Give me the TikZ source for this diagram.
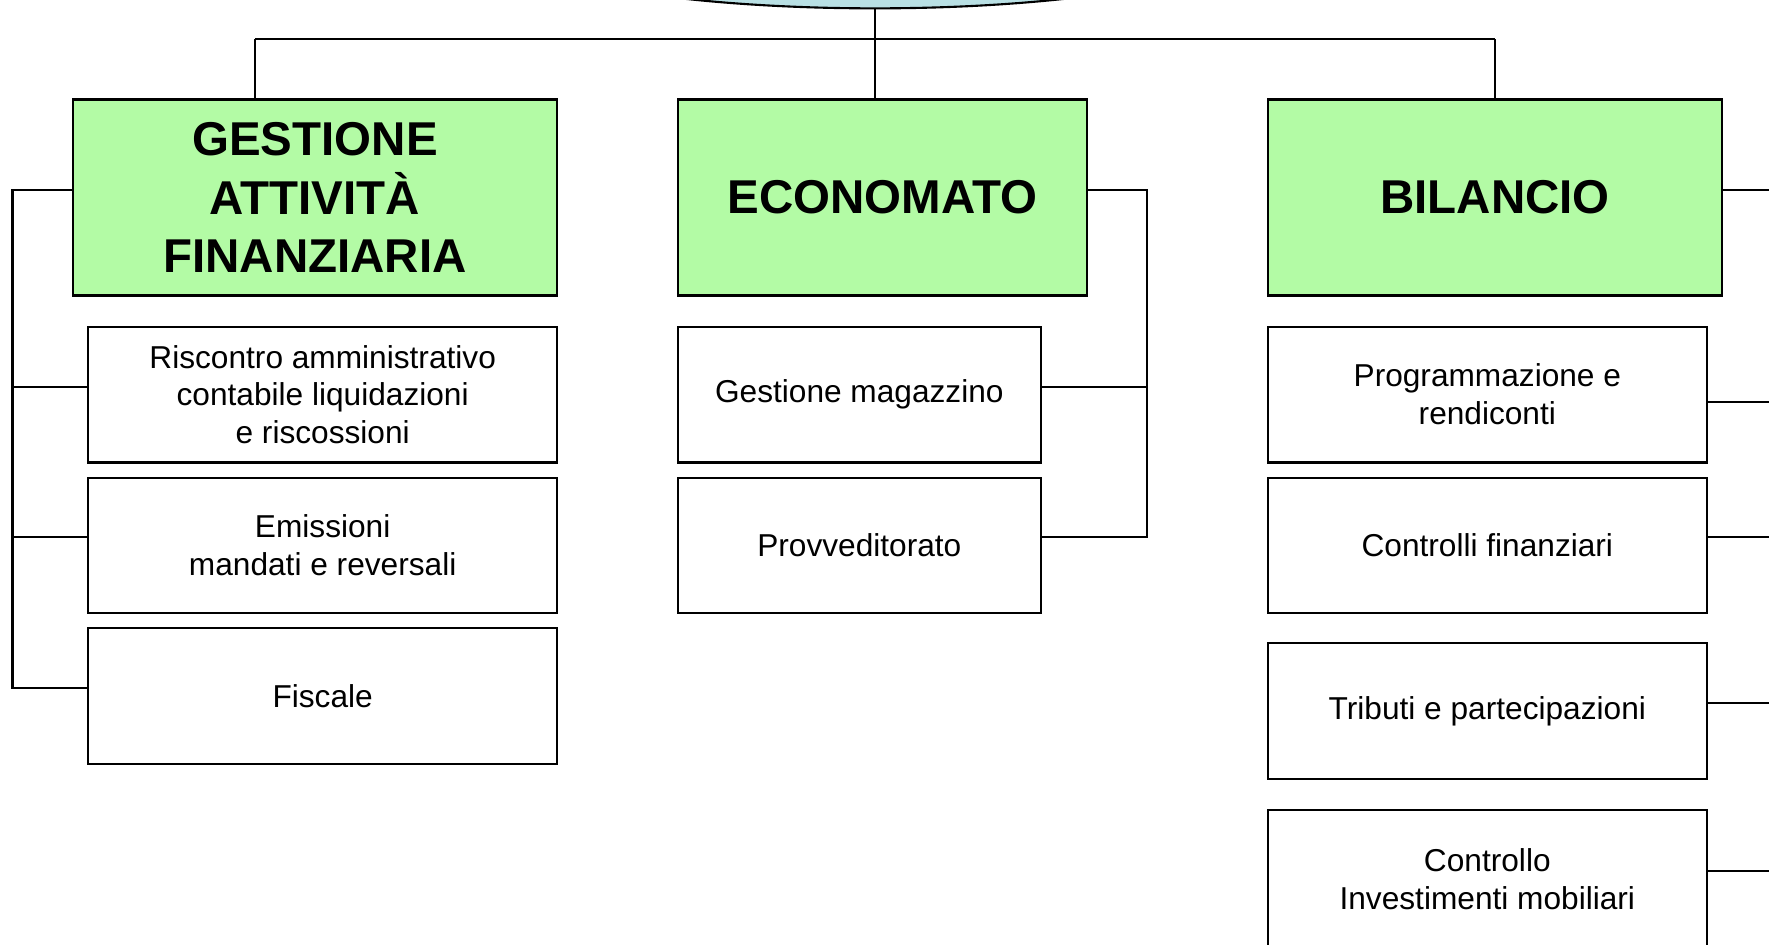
\documentclass[tikz,border=0pt]{standalone}
\usepackage{fontspec}
\setmainfont{Liberation Sans}
\usetikzlibrary{positioning, shapes.geometric}
\definecolor{headgreen}{RGB}{179,251,165}
\definecolor{rootblue}{RGB}{185,224,228}
\tikzset{
  head/.style = {rectangle, draw, line width=0.7pt, fill=headgreen, align=center, minimum height=1.96cm, font=\fontsize{13.5}{16.7}\selectfont\bfseries},
  unit/.style = {rectangle, draw, line width=0.6pt, fill=white, align=center, minimum height=1.355cm, font=\fontsize{9}{10.8}\selectfont},
  link/.style = {draw, line width=0.6pt},
}
\begin{document}
\begin{tikzpicture}[x=0.01cm, y=-0.01cm, node distance=0.13cm]
  \useasboundingbox (0,0) rectangle (1769,944);
  \clip (0,0) rectangle (1769,944);

  \node (root) [ellipse, draw, line width=0.6pt, fill=rootblue, minimum width=8cm, minimum height=1.6cm] at (875,-71.7) {};

  \node (gaf) [head, minimum width=4.84cm] at (315,197.5) {GESTIONE\\ATTIVITÀ\\FINANZIARIA};
  \node (eco) [head, minimum width=4.09cm] at (882.5,197.5) {ECONOMATO};
  \node (bil) [head, minimum width=4.54cm] at (1495,197.5) {BILANCIO};

  \node (gaf1) [unit, minimum width=4.69cm, below=0.29cm of gaf.south east, anchor=north east] {Riscontro amministrativo\\contabile liquidazioni\\e riscossioni};
  \node (gaf2) [unit, minimum width=4.69cm, below=of gaf1] {Emissioni\\mandati e reversali};
  \node (gaf3) [unit, minimum width=4.69cm, below=of gaf2] {Fiscale};

  \node (eco1) [unit, minimum width=3.63cm, below=0.29cm of eco.south west, anchor=north west] {Gestione magazzino};
  \node (eco2) [unit, minimum width=3.63cm, below=of eco1] {Provveditorato};

  \node (bil1) [unit, minimum width=4.39cm, below=0.29cm of bil.south west, anchor=north west] {Programmazione e\\rendiconti};
  \node (bil2) [unit, minimum width=4.39cm, below=of bil1] {Controlli finanziari};
  \node (bil3) [unit, minimum width=4.39cm, below=0.28cm of bil2] {Tributi e partecipazioni};
  \node (bil4) [unit, minimum width=4.39cm, minimum height=1.38cm, below=0.29cm of bil3] {Controllo\\Investimenti mobiliari};

  \coordinate (busL) at (255,39);
  \coordinate (busR) at (1495,39);
  \coordinate (gsp) at (12.5,0);
  \coordinate (esp) at (1147,0);
  \coordinate (bsp) at (1800,0);

  \draw [link] (busL) -- (busR);
  \draw [link] (busL) -- (busL |- gaf.north);
  \draw [link] (root.south) -- (root.south |- eco.north);
  \draw [link] (busR) -- (bil.north);

  \draw [link] ([yshift=0.075cm]gaf.west) -- ([yshift=0.075cm]gaf.west -| gsp) |- ([yshift=0.08cm]gaf3.west);
  \draw [link] ([yshift=0.08cm]gaf1.west) -- ([yshift=0.08cm]gaf1.west -| gsp);
  \draw [link] ([yshift=0.08cm]gaf2.west) -- ([yshift=0.08cm]gaf2.west -| gsp);

  \draw [link] ([yshift=0.075cm]eco.east) -- ([yshift=0.075cm]eco.east -| esp) |- ([yshift=0.08cm]eco2.east);
  \draw [link] ([yshift=0.08cm]eco1.east) -- ([yshift=0.08cm]eco1.east -| esp);

  \draw [link] ([yshift=0.075cm]bil.east) -- ([yshift=0.075cm]bil.east -| bsp) |- ([yshift=0.08cm]bil4.east);
  \draw [link] ([yshift=-0.075cm]bil1.east) -- ([yshift=-0.075cm]bil1.east -| bsp);
  \draw [link] ([yshift=0.08cm]bil2.east) -- ([yshift=0.08cm]bil2.east -| bsp);
  \draw [link] ([yshift=0.08cm]bil3.east) -- ([yshift=0.08cm]bil3.east -| bsp);

\end{tikzpicture}
\end{document}
